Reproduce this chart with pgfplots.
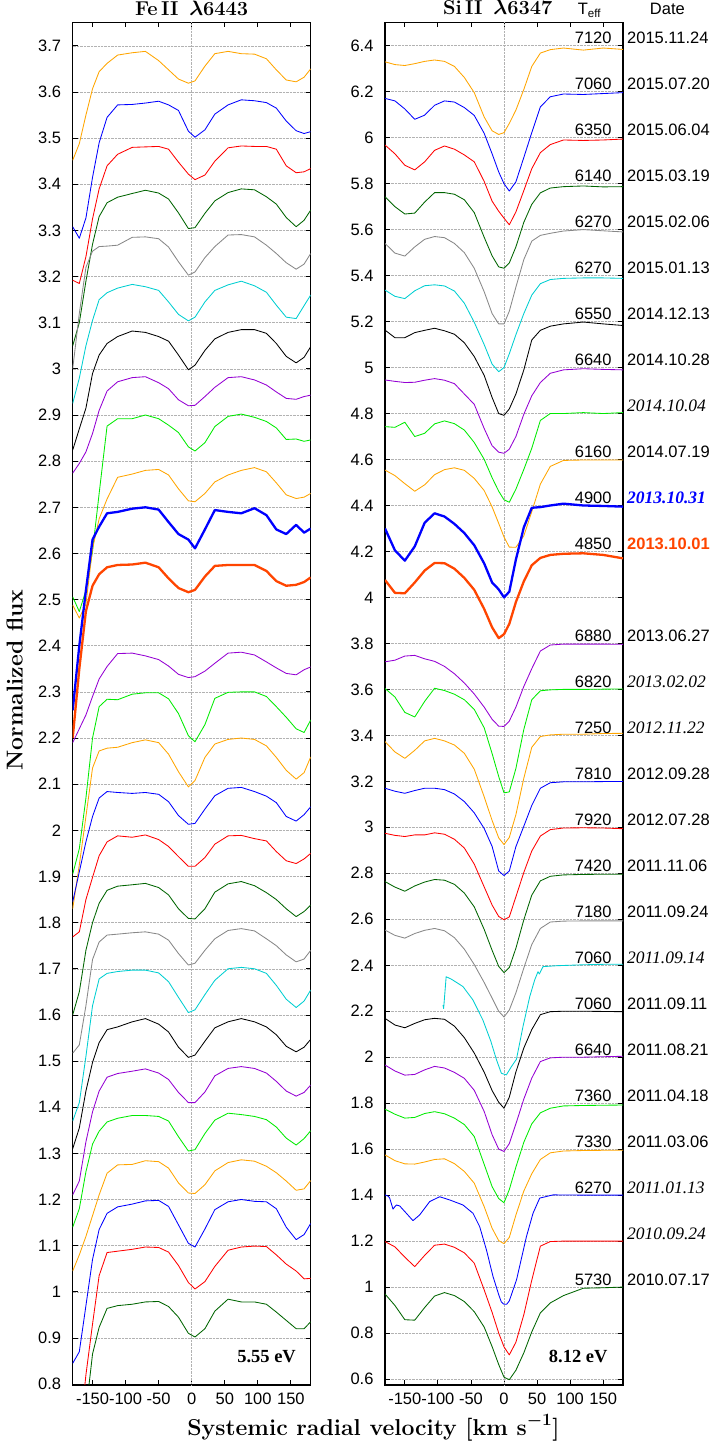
\documentclass[border=0pt]{standalone}
\usepackage{fontspec}
\usepackage{bm}
\usepackage{pgfplots}
\usepackage{pgfplotstable}
\pgfplotsset{compat=1.18}
\setsansfont{Liberation Sans}
\newfontfamily\timesfont{Liberation Serif}

\definecolor{cOrange}{RGB}{255,165,0}
\definecolor{cBlue}{RGB}{0,0,255}
\definecolor{cRed}{RGB}{255,0,0}
\definecolor{cDGreen}{RGB}{0,100,0}
\definecolor{cGray}{RGB}{136,136,136}
\definecolor{cCyan}{RGB}{0,206,209}
\definecolor{cPurple}{RGB}{148,0,211}
\definecolor{cGreen}{RGB}{0,235,0}
\definecolor{cOrRed}{RGB}{255,69,0}

% Fe II 6443: one row per spectrum (newest on top), columns = radial velocity [km/s]
\pgfplotstableread{
id  -180 -170 -160 -150 -140 -128 -112 -90 -70 -50 -35 -20 -5 5 20 35 55 75 95 113 128 143 158 170 180
f1  3.452 3.488 3.55 3.607 3.644 3.662 3.68 3.685 3.688 3.668 3.648 3.628 3.619 3.624 3.656 3.683 3.688 3.683 3.682 3.672 3.648 3.626 3.622 3.632 3.65
f2  3.308 3.283 3.327 3.415 3.49 3.545 3.572 3.573 3.576 3.58 3.572 3.56 3.515 3.502 3.518 3.552 3.572 3.583 3.581 3.577 3.565 3.537 3.516 3.51 3.514
f3  3.192 3.185 3.243 3.325 3.39 3.44 3.465 3.48 3.481 3.482 3.476 3.448 3.422 3.41 3.42 3.45 3.479 3.483 3.482 3.482 3.476 3.44 3.425 3.427 3.434
f4  3.05 3.10 3.19 3.27 3.33 3.36 3.372 3.38 3.387 3.381 3.368 3.338 3.304 3.306 3.337 3.364 3.382 3.39 3.388 3.373 3.357 3.328 3.308 3.322 3.344
f5  3.0 3.12 3.22 3.255 3.265 3.266 3.268 3.285 3.286 3.282 3.264 3.232 3.203 3.21 3.241 3.265 3.29 3.291 3.286 3.268 3.25 3.23 3.216 3.227 3.25
f6  2.925 2.98 3.05 3.105 3.15 3.165 3.175 3.183 3.178 3.17 3.145 3.118 3.104 3.112 3.145 3.17 3.182 3.19 3.18 3.166 3.138 3.112 3.109 3.137 3.16
f7  2.824 2.87 2.915 2.99 3.03 3.055 3.07 3.082 3.079 3.07 3.06 3.03 2.998 3.008 3.04 3.065 3.079 3.085 3.085 3.077 3.055 3.027 3.013 3.025 3.048
f8  2.774 2.795 2.82 2.86 2.91 2.952 2.972 2.981 2.983 2.97 2.957 2.933 2.92 2.921 2.94 2.96 2.981 2.983 2.976 2.965 2.95 2.936 2.934 2.94 2.943
f9  2.506 2.474 2.52 2.605 2.73 2.876 2.892 2.892 2.9 2.892 2.878 2.862 2.831 2.822 2.84 2.875 2.897 2.902 2.895 2.886 2.872 2.847 2.848 2.843 2.846
f10 2.488 2.46 2.49 2.61 2.675 2.718 2.765 2.772 2.78 2.782 2.77 2.74 2.714 2.712 2.73 2.755 2.77 2.78 2.786 2.777 2.753 2.727 2.719 2.722 2.73
f11 2.26 2.40 2.52 2.63 2.658 2.687 2.69 2.697 2.70 2.695 2.668 2.642 2.63 2.611 2.652 2.694 2.69 2.687 2.698 2.683 2.652 2.642 2.662 2.645 2.654
f12 2.2 2.35 2.475 2.53 2.555 2.57 2.575 2.576 2.58 2.57 2.546 2.525 2.516 2.521 2.55 2.573 2.575 2.575 2.575 2.562 2.54 2.53 2.532 2.538 2.548
f13 2.19 2.22 2.25 2.29 2.328 2.355 2.383 2.384 2.378 2.37 2.356 2.338 2.331 2.333 2.345 2.362 2.384 2.386 2.38 2.365 2.352 2.34 2.337 2.348 2.354
f14 1.905 1.96 2.07 2.2 2.268 2.284 2.283 2.295 2.298 2.298 2.285 2.253 2.205 2.192 2.229 2.286 2.299 2.30 2.30 2.29 2.268 2.245 2.22 2.212 2.239
f15 1.83 1.925 2.03 2.135 2.172 2.178 2.18 2.19 2.196 2.19 2.165 2.127 2.094 2.108 2.158 2.187 2.197 2.2 2.197 2.183 2.158 2.13 2.111 2.125 2.159
f16 1.845 1.91 1.975 2.03 2.07 2.084 2.082 2.08 2.082 2.078 2.062 2.032 2.013 2.015 2.046 2.075 2.091 2.093 2.084 2.074 2.06 2.03 2.02 2.034 2.051
f17 1.769 1.78 1.85 1.898 1.945 1.975 1.988 1.985 1.99 1.98 1.965 1.943 1.922 1.922 1.941 1.97 1.988 1.989 1.982 1.977 1.954 1.934 1.928 1.938 1.95
f18 1.60 1.65 1.74 1.80 1.842 1.87 1.879 1.882 1.885 1.876 1.86 1.83 1.809 1.808 1.83 1.866 1.884 1.889 1.88 1.865 1.85 1.83 1.813 1.824 1.838
f19 1.517 1.535 1.62 1.72 1.758 1.773 1.775 1.778 1.78 1.775 1.762 1.733 1.708 1.712 1.74 1.765 1.783 1.787 1.782 1.765 1.75 1.73 1.715 1.721 1.74
f20 1.37 1.41 1.51 1.62 1.678 1.69 1.694 1.697 1.697 1.691 1.672 1.638 1.605 1.611 1.644 1.675 1.70 1.703 1.70 1.69 1.664 1.634 1.616 1.63 1.654
f21 1.31 1.355 1.435 1.497 1.54 1.568 1.574 1.585 1.592 1.58 1.563 1.53 1.508 1.513 1.543 1.572 1.585 1.592 1.585 1.574 1.557 1.532 1.52 1.53 1.547
f22 1.21 1.24 1.325 1.39 1.435 1.465 1.473 1.478 1.483 1.474 1.46 1.432 1.41 1.41 1.433 1.468 1.484 1.488 1.484 1.474 1.456 1.435 1.424 1.432 1.448
f23 1.14 1.18 1.26 1.32 1.348 1.368 1.376 1.382 1.382 1.38 1.37 1.336 1.305 1.308 1.343 1.372 1.387 1.384 1.38 1.373 1.357 1.333 1.318 1.332 1.349
f24 1.045 1.08 1.12 1.165 1.21 1.257 1.275 1.276 1.284 1.282 1.268 1.236 1.214 1.213 1.232 1.262 1.28 1.286 1.283 1.272 1.258 1.24 1.22 1.223 1.241
f25 0.845 0.87 0.97 1.07 1.135 1.17 1.184 1.19 1.197 1.198 1.185 1.145 1.105 1.097 1.136 1.178 1.195 1.20 1.196 1.195 1.18 1.14 1.113 1.124 1.148
f26 0.55 0.68 0.82 0.93 1.035 1.085 1.088 1.092 1.097 1.096 1.086 1.057 1.02 1.006 1.022 1.055 1.09 1.097 1.099 1.098 1.08 1.06 1.045 1.028 1.029
f27 0.5 0.6 0.74 0.865 0.923 0.964 0.97 0.973 0.978 0.979 0.968 0.945 0.91 0.902 0.92 0.958 0.984 0.978 0.978 0.973 0.956 0.938 0.92 0.92 0.935
}\feraw
\pgfplotstabletranspose[colnames from=id,input colnames to=v]{\fe}{\feraw}

% Si II 6347: same spectra, same order
\pgfplotstableread{
id  -180 -165 -150 -135 -120 -105 -90 -75 -60 -45 -30 -18 -8 0 8 18 30 42 55 70 90 120 150 180
s1  6.33 6.318 6.314 6.322 6.332 6.338 6.332 6.31 6.262 6.196 6.09 6.03 6.014 6.022 6.062 6.12 6.21 6.31 6.368 6.383 6.39 6.381 6.39 6.384
s2  6.171 6.16 6.125 6.08 6.098 6.141 6.16 6.155 6.131 6.097 6.019 5.93 5.851 5.80 5.768 5.808 5.914 6.022 6.134 6.178 6.19 6.188 6.192 6.196
s3  5.968 5.93 5.88 5.86 5.895 5.945 5.964 5.95 5.925 5.895 5.81 5.724 5.68 5.65 5.621 5.677 5.77 5.865 5.935 5.97 5.99 5.988 5.99 5.994
s4  5.743 5.70 5.668 5.672 5.72 5.761 5.761 5.754 5.73 5.674 5.567 5.486 5.438 5.432 5.455 5.525 5.632 5.71 5.76 5.781 5.787 5.79 5.786 5.787
s5  5.54 5.498 5.485 5.525 5.558 5.57 5.565 5.54 5.50 5.432 5.33 5.235 5.19 5.19 5.245 5.35 5.47 5.55 5.575 5.584 5.594 5.60 5.595 5.59
s6  5.337 5.31 5.30 5.334 5.356 5.36 5.355 5.333 5.28 5.197 5.10 5.015 4.982 5.00 5.06 5.143 5.235 5.315 5.365 5.383 5.388 5.39 5.39 5.388
s7  5.163 5.13 5.13 5.152 5.162 5.171 5.16 5.145 5.108 5.048 4.966 4.87 4.80 4.792 4.82 4.885 4.99 5.12 5.162 5.18 5.19 5.198 5.19 5.183
s8  4.946 4.94 4.935 4.936 4.945 4.952 4.945 4.93 4.885 4.84 4.735 4.66 4.632 4.627 4.645 4.70 4.797 4.877 4.935 4.975 4.99 4.995 4.992 4.99
s9  4.743 4.74 4.762 4.70 4.714 4.755 4.768 4.756 4.728 4.674 4.601 4.521 4.462 4.425 4.414 4.471 4.557 4.649 4.77 4.80 4.80 4.804 4.80 4.804
s10 4.554 4.53 4.495 4.462 4.49 4.534 4.556 4.564 4.553 4.518 4.465 4.394 4.322 4.263 4.219 4.218 4.268 4.373 4.493 4.57 4.596 4.598 4.598 4.598
s11 4.30 4.205 4.16 4.222 4.325 4.366 4.352 4.32 4.28 4.227 4.148 4.065 4.035 4.0 4.025 4.165 4.305 4.39 4.393 4.40 4.408 4.40 4.398 4.395
s12 4.076 4.02 4.018 4.065 4.117 4.15 4.149 4.125 4.085 4.033 3.95 3.87 3.823 3.84 3.885 3.98 4.07 4.14 4.172 4.185 4.19 4.192 4.185 4.17
s13 3.72 3.727 3.745 3.748 3.733 3.722 3.70 3.668 3.628 3.58 3.523 3.47 3.44 3.439 3.462 3.523 3.613 3.69 3.767 3.793 3.797 3.797 3.797 3.796
s14 3.604 3.567 3.50 3.48 3.548 3.605 3.595 3.579 3.555 3.513 3.433 3.321 3.221 3.15 3.154 3.256 3.426 3.555 3.594 3.598 3.60 3.60 3.601 3.602
s15 3.373 3.328 3.30 3.335 3.376 3.387 3.376 3.358 3.322 3.253 3.133 3.03 2.954 2.925 2.956 3.055 3.214 3.348 3.395 3.402 3.405 3.405 3.408 3.409
s16 3.17 3.157 3.148 3.16 3.17 3.17 3.164 3.145 3.112 3.063 2.995 2.917 2.81 2.79 2.81 2.916 3.005 3.095 3.17 3.194 3.198 3.198 3.199 3.199
s17 2.974 2.965 2.96 2.967 2.967 2.976 2.97 2.948 2.91 2.84 2.741 2.662 2.612 2.598 2.61 2.698 2.804 2.897 2.962 2.99 2.997 2.998 2.997 2.994
s18 2.764 2.74 2.722 2.745 2.762 2.773 2.77 2.752 2.714 2.654 2.556 2.465 2.395 2.368 2.39 2.474 2.598 2.705 2.767 2.787 2.793 2.795 2.796 2.796
s19 2.553 2.53 2.518 2.538 2.552 2.56 2.55 2.52 2.47 2.403 2.325 2.257 2.20 2.175 2.205 2.28 2.388 2.49 2.56 2.588 2.592 2.593 2.593 2.593
s21 2.169 2.14 2.128 2.147 2.163 2.169 2.165 2.135 2.085 2.018 1.935 1.855 1.804 1.778 1.826 1.936 2.04 2.12 2.185 2.198 2.20 2.20 2.199 2.198
s22 1.966 1.94 1.922 1.925 1.945 1.96 1.953 1.934 1.908 1.856 1.764 1.663 1.60 1.59 1.624 1.71 1.818 1.909 1.981 1.997 2.0 2.0 2.002 2.004
s23 1.774 1.752 1.735 1.738 1.755 1.763 1.754 1.735 1.707 1.655 1.534 1.437 1.385 1.367 1.424 1.522 1.63 1.71 1.758 1.778 1.788 1.79 1.791 1.792
s24 1.575 1.55 1.536 1.535 1.544 1.555 1.558 1.537 1.503 1.452 1.35 1.256 1.202 1.189 1.216 1.313 1.418 1.493 1.555 1.584 1.592 1.594 1.595 1.595
s26 1.198 1.175 1.13 1.089 1.138 1.182 1.187 1.173 1.149 1.104 0.988 0.89 0.80 0.74 0.705 0.76 0.88 1.03 1.178 1.198 1.20 1.20 1.20 1.20
s27 0.97 0.92 0.858 0.856 0.911 0.961 0.976 0.963 0.937 0.893 0.826 0.741 0.663 0.608 0.597 0.638 0.714 0.805 0.888 0.931 0.963 0.995 0.997 1.0
}\siraw
\pgfplotstabletranspose[colnames from=id,input colnames to=v]{\si}{\siraw}

\pgfplotsset{
  panel/.style={
    scale only axis, width=238pt, height=1362.7pt,
    xmin=-180, xmax=180,
    xtick={-150,-100,-50,0,50,100,150},
    xticklabels={-150,-100,-50,0,50,100,150},
    tick align=inside, major tick length=5pt,
    tick style={black, line width=0.8pt},
    axis line style={line width=1.2pt},
    ymajorgrids,
    grid style={gray!60, densely dotted, line width=0.5pt},
    extra x ticks={0}, extra x tick labels={},
    extra x tick style={grid=major, major tick length=0pt},
    tick label style={font=\sffamily\fontsize{16.5}{18}\selectfont},
    /pgf/number format/assume math mode=true,
    yticklabel style={xshift=-8pt},
    xticklabel style={yshift=-4pt},
    clip mode=individual,
    no markers,
    every axis plot/.append style={line width=0.85pt, line join=round},
  },
}
\tikzset{
  teff/.style={anchor=base east, inner sep=0pt, font=\sffamily\fontsize{16.5}{18}\selectfont},
  date/.style={anchor=base west, inner sep=0pt, font=\sffamily\fontsize{16.5}{18}\selectfont},
  idate/.style={anchor=base west, inner sep=0pt, font=\timesfont\itshape\fontsize{17.5}{20}\selectfont},
  hdr/.style={anchor=base, inner sep=0pt, font=\bfseries\fontsize{20}{24}\selectfont},
  ev/.style={anchor=base east, inner sep=0pt, font=\timesfont\bfseries\fontsize{18.5}{22}\selectfont},
}

\begin{document}
\begin{tikzpicture}
% ---------------- Fe II panel ----------------
\begin{axis}[panel, ymin=0.798, ymax=3.751, ytick distance=0.1]
\addplot[cOrange]  table[x=v,y=f1]{\fe};
\addplot[cBlue]    table[x=v,y=f2]{\fe};
\addplot[cRed]     table[x=v,y=f3]{\fe};
\addplot[cDGreen]  table[x=v,y=f4]{\fe};
\addplot[cGray]    table[x=v,y=f5]{\fe};
\addplot[cCyan]    table[x=v,y=f6]{\fe};
\addplot[black]    table[x=v,y=f7]{\fe};
\addplot[cPurple]  table[x=v,y=f8]{\fe};
\addplot[cGreen]   table[x=v,y=f9]{\fe};
\addplot[cOrange]  table[x=v,y=f10]{\fe};
\addplot[cBlue, line width=2.3pt]  table[x=v,y=f11]{\fe};
\addplot[cOrRed, line width=2.3pt] table[x=v,y=f12]{\fe};
\addplot[cPurple]  table[x=v,y=f13]{\fe};
\addplot[cGreen]   table[x=v,y=f14]{\fe};
\addplot[cOrange]  table[x=v,y=f15]{\fe};
\addplot[cBlue]    table[x=v,y=f16]{\fe};
\addplot[cRed]     table[x=v,y=f17]{\fe};
\addplot[cDGreen]  table[x=v,y=f18]{\fe};
\addplot[cGray]    table[x=v,y=f19]{\fe};
\addplot[cCyan]    table[x=v,y=f20]{\fe};
\addplot[black]    table[x=v,y=f21]{\fe};
\addplot[cPurple]  table[x=v,y=f22]{\fe};
\addplot[cGreen]   table[x=v,y=f23]{\fe};
\addplot[cOrange]  table[x=v,y=f24]{\fe};
\addplot[cBlue]    table[x=v,y=f25]{\fe};
\addplot[cRed]     table[x=v,y=f26]{\fe};
\addplot[cDGreen]  table[x=v,y=f27]{\fe};
\node[hdr] at (axis cs:0,3.7665) {Fe\,II\, $\bm{\lambda}$6443};
\node[ev] at (axis cs:157.8,0.8457) {5.55 eV};
\end{axis}

% ---------------- Si II panel ----------------
\begin{axis}[panel, at={(312.3pt,0pt)}, anchor=south west,
             ymin=0.574, ymax=6.502, ytick distance=0.2]
\addplot[cOrange]  table[x=v,y=s1]{\si};
\addplot[cBlue]    table[x=v,y=s2]{\si};
\addplot[cRed]     table[x=v,y=s3]{\si};
\addplot[cDGreen]  table[x=v,y=s4]{\si};
\addplot[cGray]    table[x=v,y=s5]{\si};
\addplot[cCyan]    table[x=v,y=s6]{\si};
\addplot[black]    table[x=v,y=s7]{\si};
\addplot[cPurple]  table[x=v,y=s8]{\si};
\addplot[cGreen]   table[x=v,y=s9]{\si};
\addplot[cOrange]  table[x=v,y=s10]{\si};
\addplot[cBlue, line width=2.3pt]  table[x=v,y=s11]{\si};
\addplot[cOrRed, line width=2.3pt] table[x=v,y=s12]{\si};
\addplot[cPurple]  table[x=v,y=s13]{\si};
\addplot[cGreen]   table[x=v,y=s14]{\si};
\addplot[cOrange]  table[x=v,y=s15]{\si};
\addplot[cBlue]    table[x=v,y=s16]{\si};
\addplot[cRed]     table[x=v,y=s17]{\si};
\addplot[cDGreen]  table[x=v,y=s18]{\si};
\addplot[cGray]    table[x=v,y=s19]{\si};
% 2011.09.14 spectrum only covers v > -92 km/s
\addplot[cCyan] coordinates {
 (-92.3,2.227) (-91.3,2.212) (-87.5,2.35) (-80,2.34) (-70,2.322) (-62,2.307)
 (-47,2.249) (-32,2.162) (-20,2.07) (-11.5,1.99) (-4,1.93) (3.6,1.923)
 (11.2,1.959) (18.8,1.991) (28.7,2.133) (38.9,2.263) (46.4,2.336) (51.4,2.372)
 (53.5,2.362) (59,2.394) (80,2.398) (120,2.402) (150,2.404) (180,2.404)};
\addplot[black]    table[x=v,y=s21]{\si};
\addplot[cPurple]  table[x=v,y=s22]{\si};
\addplot[cGreen]   table[x=v,y=s23]{\si};
\addplot[cOrange]  table[x=v,y=s24]{\si};
% 2011.01.13, with the small notch near -168 km/s
\addplot[cBlue] coordinates {
 (-180,1.401) (-175,1.395) (-172.9,1.387) (-167.9,1.339) (-165,1.35) (-162.8,1.357)
 (-157.8,1.353) (-147.7,1.321) (-137.7,1.289) (-127.5,1.314) (-112.4,1.372)
 (-97.3,1.393) (-82.1,1.379) (-62,1.357) (-46.9,1.321) (-36.8,1.263) (-26.6,1.162)
 (-16.6,1.046) (-8,0.967) (-4,0.935) (0,0.925) (4,0.925) (8,0.94) (19,1.032)
 (33.9,1.219) (43.9,1.321) (54,1.387) (74.1,1.401) (120,1.40) (180,1.40)};
\addplot[cRed]     table[x=v,y=s26]{\si};
\addplot[cDGreen]  table[x=v,y=s27]{\si};

\node[hdr] at (axis cs:-9.5,6.534) {Si\,II\, $\bm{\lambda}$6347};
\node[anchor=base west, inner sep=0pt, font=\sffamily\fontsize{16.5}{18}\selectfont] at (axis cs:111.5,6.534) {T\textsubscript{eff}};
\node[anchor=base west, inner sep=0pt, font=\sffamily\fontsize{16.5}{18}\selectfont] at (axis cs:220.4,6.534) {Date};
\node[ev] at (axis cs:156.9,0.67) {8.12 eV};

% effective temperatures and observing dates
\node[teff] at (axis cs:163,6.408) {7120}; \node[date] at (axis cs:186,6.408) {2015.11.24};
\node[teff] at (axis cs:163,6.208) {7060}; \node[date] at (axis cs:186,6.208) {2015.07.20};
\node[teff] at (axis cs:163,6.008) {6350}; \node[date] at (axis cs:186,6.008) {2015.06.04};
\node[teff] at (axis cs:163,5.808) {6140}; \node[date] at (axis cs:186,5.808) {2015.03.19};
\node[teff] at (axis cs:163,5.608) {6270}; \node[date] at (axis cs:186,5.608) {2015.02.06};
\node[teff] at (axis cs:163,5.408) {6270}; \node[date] at (axis cs:186,5.408) {2015.01.13};
\node[teff] at (axis cs:163,5.208) {6550}; \node[date] at (axis cs:186,5.208) {2014.12.13};
\node[teff] at (axis cs:163,5.008) {6640}; \node[date] at (axis cs:186,5.008) {2014.10.28};
\node[idate] at (axis cs:186,4.808) {2014.10.04};
\node[teff] at (axis cs:163,4.608) {6160}; \node[date] at (axis cs:186,4.608) {2014.07.19};
\node[teff] at (axis cs:163,4.408) {4900};
\node[idate, font=\timesfont\bfseries\itshape\fontsize{17.5}{20}\selectfont, text=cBlue] at (axis cs:186,4.408) {2013.10.31};
\node[teff] at (axis cs:163,4.208) {4850};
\node[date, font=\sffamily\bfseries\fontsize{16.5}{18}\selectfont, text=cOrRed] at (axis cs:186,4.208) {2013.10.01};
\node[teff] at (axis cs:163,3.808) {6880}; \node[date] at (axis cs:186,3.808) {2013.06.27};
\node[teff] at (axis cs:163,3.608) {6820}; \node[idate] at (axis cs:186,3.608) {2013.02.02};
\node[teff] at (axis cs:163,3.408) {7250}; \node[idate] at (axis cs:186,3.408) {2012.11.22};
\node[teff] at (axis cs:163,3.208) {7810}; \node[date] at (axis cs:186,3.208) {2012.09.28};
\node[teff] at (axis cs:163,3.008) {7920}; \node[date] at (axis cs:186,3.008) {2012.07.28};
\node[teff] at (axis cs:163,2.808) {7420}; \node[date] at (axis cs:186,2.808) {2011.11.06};
\node[teff] at (axis cs:163,2.608) {7180}; \node[date] at (axis cs:186,2.608) {2011.09.24};
\node[teff] at (axis cs:163,2.408) {7060}; \node[idate] at (axis cs:186,2.408) {2011.09.14};
\node[teff] at (axis cs:163,2.208) {7060}; \node[date] at (axis cs:186,2.208) {2011.09.11};
\node[teff] at (axis cs:163,2.008) {6640}; \node[date] at (axis cs:186,2.008) {2011.08.21};
\node[teff] at (axis cs:163,1.808) {7360}; \node[date] at (axis cs:186,1.808) {2011.04.18};
\node[teff] at (axis cs:163,1.608) {7330}; \node[date] at (axis cs:186,1.608) {2011.03.06};
\node[teff] at (axis cs:163,1.408) {6270}; \node[idate] at (axis cs:186,1.408) {2011.01.13};
\node[idate] at (axis cs:186,1.208) {2010.09.24};
\node[teff] at (axis cs:163,1.008) {5730}; \node[date] at (axis cs:186,1.008) {2010.07.17};
\end{axis}

% shared axis titles
\node[rotate=90, font=\bfseries\fontsize{23}{27}\selectfont] at (-58pt,705pt) {Normalized flux};
\node[anchor=base, font=\bfseries\fontsize{23}{27}\selectfont] at (300.8pt,-50pt) {Systemic radial velocity [km s$^{\bm{-1}}$]};

\pgfresetboundingbox
\path (-72.7pt,-57pt) rectangle (640.3pt,1385pt);
\end{tikzpicture}
\end{document}
